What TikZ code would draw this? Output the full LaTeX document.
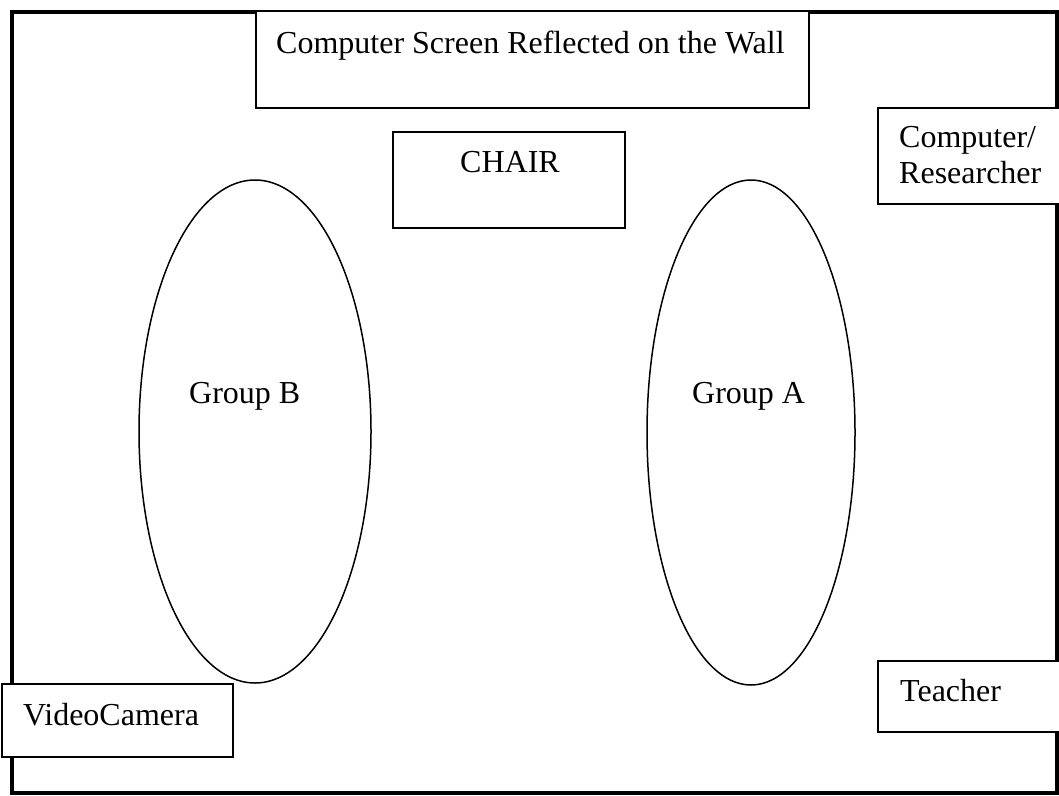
\documentclass[tikz,border=0pt]{standalone}
\usepackage{fontspec}
\setmainfont{Liberation Serif}
\begin{document}
\begin{tikzpicture}[x=1pt,y=-1pt,
  wall/.style={line width=4pt},
  thing/.style={draw, line width=1.5pt, fill=white},
  group/.style={draw, line width=1.5pt},
  lbl/.style={anchor=base west, inner sep=0pt, font=\fontsize{32}{36}\selectfont}]
  \useasboundingbox (0,0) rectangle (1059,795);
  \clip (0,0) rectangle (1059,795);

  % room outline
  \draw[wall] (12,11.5) rectangle (1057,793);

  % furniture and fixtures along the walls
  \draw[thing] (256,11.5) rectangle (809,108);
  \draw[thing] (393,132) rectangle (625,228);
  \draw[thing] (878,108) rectangle (1075,204);
  \draw[thing] (878,661) rectangle (1075,732);
  \draw[thing] (2,684) rectangle (233,757);

  % seating groups
  \draw[group] (255,431.5) ellipse [x radius=116, y radius=251.5];
  \draw[group] (751,432.5) ellipse [x radius=104, y radius=252.5];

  % labels
  \node[lbl] (screen) at (276,53) {Computer Screen Reflected on the Wall};
  \node[lbl] (chair) at (460,172) {CHAIR};
  \node[lbl] (comp1) at (899,147) {Computer/};
  \node[lbl] (comp2) at (899,183) {Researcher};
  \node[lbl] (teacher) at (900,701) {Teacher};
  \node[lbl] (camera) at (23,725) {VideoCamera};
  \node[lbl] (groupb) at (189,403) {Group B};
  \node[lbl] (groupa) at (692,403) {Group A};
\end{tikzpicture}
\end{document}
